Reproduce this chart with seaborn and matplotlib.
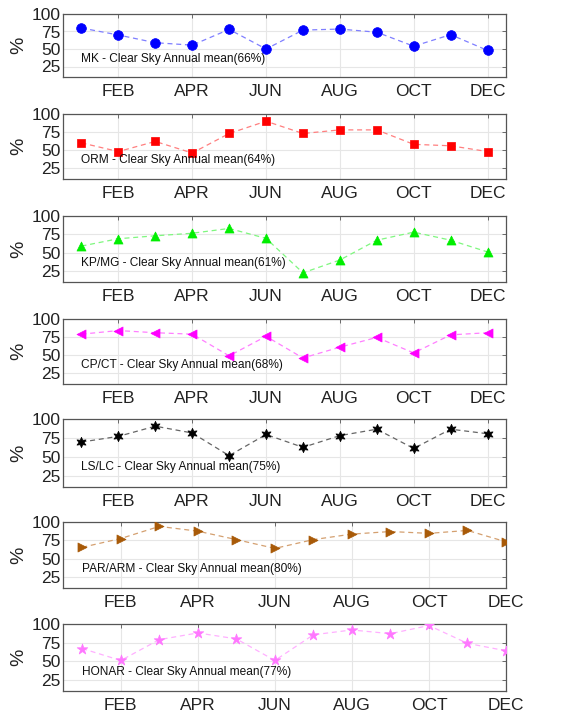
import matplotlib
matplotlib.use("Agg")
import matplotlib.pyplot as plt
import seaborn as sns
import pandas as pd

sns.set_style("white")
plt.rcParams["font.family"] = ["Liberation Sans", "DejaVu Sans"]

months = list(range(1, 13))
month_ticks = [2, 4, 6, 8, 10, 12]
month_labels = ["FEB", "APR", "JUN", "AUG", "OCT", "DEC"]
y_ticks = [25, 50, 75, 100]

stations = ["MK", "ORM", "KP/MG", "CP/CT", "LS/LC", "PAR/ARM", "HONAR"]
annual_means = [66, 64, 61, 68, 75, 80, 77]

mk = [80, 70, 59, 55.5, 78, 50, 77, 78.5, 74, 54, 70.5, 48]
orm = [60, 48, 62, 46, 73, 90, 73, 78, 78, 58, 56, 48]
kpmg = [59, 69, 73, 76.5, 83, 69.5, 22.5, 40, 67, 78, 67, 51]
cpct = [79, 84, 81, 79, 49, 76, 46, 61, 74.5, 53, 78, 81]
lslc = [69.5, 77, 90.5, 81.5, 51.5, 79.5, 62.5, 78, 86.5, 61, 86.5, 80.5]
pararm = [65.5, 77.5, 94, 87.5, 76, 64, 76, 83.5, 87, 84.5, 88.5, 73]
honar = [67, 51, 79, 88, 80, 51, 85.5, 92, 87, 98, 74, 64]

series = [mk, orm, kpmg, cpct, lslc, pararm, honar]
colors = ["#0000ff", "#ff0000", "#00ee00", "#ff00ff", "#000000", "#a85a08", "#ff77ff"]
line_colors = ["#7f7fff", "#ff7f7f", "#7ff77f", "#ff7fff", "#666666", "#d4a070", "#ffb0ff"]
markers = ["o", "s", "^", "<", (6, 1, 0), ">", "*"]
msizes = [7, 6, 6.5, 6.5, 7.5, 6.5, 8]
x_right = [12.5, 12.5, 12.5, 12.5, 12.5, 12.0, 12.0]

fig = plt.figure(figsize=(5.71, 7.16), dpi=100)
W, H = 571, 716
tops = [14, 114, 216, 319, 419, 522, 624]
bottoms = [77, 179, 282, 384, 487, 588, 691]
left, right = 63, 506

for i, name in enumerate(stations):
    ax = fig.add_axes([left / W, 1 - bottoms[i] / H, (right - left) / W,
                       (bottoms[i] - tops[i]) / H])
    df = pd.DataFrame({"month": months, "value": series[i]})
    sns.lineplot(data=df, x="month", y="value", ax=ax, color=line_colors[i],
                 linewidth=0.9, dashes=False, linestyle=(0, (4, 3)), zorder=2)
    sns.scatterplot(data=df, x="month", y="value", ax=ax, color=colors[i],
                    marker=markers[i], s=msizes[i] ** 2, edgecolor=colors[i],
                    linewidth=0.5, zorder=3, legend=False)
    ax.set_xlim(0.5, x_right[i])
    ax.set_ylim(10, 100)
    ax.set_xticks(month_ticks)
    ax.set_xticklabels(month_labels)
    ax.set_yticks(y_ticks)
    ax.grid(True, color="#e6e6e6", linewidth=0.8, zorder=0)
    ax.set_axisbelow(True)
    ax.tick_params(direction="in", length=3, width=0.6, color="#555555",
                   labelsize=12.5, labelcolor="#222222", top=True, right=True,
                   pad=2)
    ax.tick_params(axis="x", pad=5)
    for sp in ax.spines.values():
        sp.set_color("#555555")
        sp.set_linewidth(0.9)
    ax.set_xlabel("")
    ax.set_ylabel("%", fontsize=14, color="#222222", labelpad=3)
    ax.text(1, 36, f"{name} - Clear Sky Annual mean({annual_means[i]}%)",
            fontsize=8.6, color="#111111", ha="left", va="center", zorder=4)

fig.savefig("out.png", dpi=100)
